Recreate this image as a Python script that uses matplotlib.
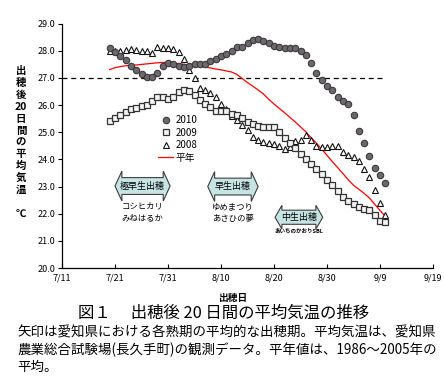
import numpy as np
import matplotlib
matplotlib.use("Agg")
import matplotlib.pyplot as plt
from matplotlib.patches import Polygon

plt.rcParams["font.family"] = ["Noto Sans CJK JP", "DejaVu Sans"]

# ─── Data (days counted from 7/11) ───────────────────────────────────────────

DAYS = np.arange(9, 62)          # 7/20 .. 9/10, one point per heading day
TICK_DAYS = [0, 10, 20, 30, 40, 50, 60, 70]
TICK_LABELS = ["7/11", "7/21", "7/31", "8/10", "8/20", "8/30", "9/9", "9/19"]

temp_2010 = [28.10, 27.97, 27.80, 27.67, 27.43, 27.30, 27.15, 27.04, 27.05, 27.18,
             27.45, 27.57, 27.52, 27.46, 27.40, 27.46, 27.50, 27.52, 27.53, 27.63,
             27.69, 27.80, 27.89, 27.99, 28.14, 28.16, 28.28, 28.40, 28.44, 28.36,
             28.28, 28.18, 28.16, 28.11, 28.09, 28.09, 28.00, 27.85, 27.56, 27.19,
             26.93, 26.72, 26.54, 26.29, 26.14, 26.04, 25.63, 25.06, 24.60, 24.11,
             23.69, 23.43, 23.14]

temp_2009 = [25.42, 25.53, 25.64, 25.76, 25.86, 25.91, 25.97, 26.00, 26.17, 26.29,
             26.29, 26.24, 26.29, 26.47, 26.56, 26.51, 26.38, 26.20, 26.04, 25.92,
             25.79, 25.78, 25.80, 25.69, 25.64, 25.53, 25.39, 25.30, 25.22, 25.18,
             25.18, 25.20, 25.02, 24.80, 24.60, 24.42, 24.20, 24.02, 23.84, 23.66,
             23.48, 23.26, 23.05, 22.83, 22.63, 22.48, 22.35, 22.25, 22.18, 22.12,
             21.96, 21.72, 21.68]

temp_2008 = [28.00, 27.99, 27.99, 28.04, 28.05, 28.04, 28.00, 27.99, 27.91, 28.16,
             28.11, 28.10, 28.07, 27.96, 27.70, 27.31, 27.00, 26.63, 26.56, 26.46,
             26.29, 26.04, 25.84, 25.60, 25.45, 25.28, 25.08, 24.84, 24.70, 24.64,
             24.60, 24.55, 24.49, 24.39, 24.45, 24.67, 24.72, 24.91, 24.73, 24.51,
             24.45, 24.45, 24.48, 24.48, 24.27, 24.17, 24.09, 23.94, 23.64, 23.36,
             22.87, 22.39, 21.96]

temp_normal = [27.31, 27.38, 27.42, 27.45, 27.46, 27.48, 27.50, 27.52, 27.54, 27.56,
               27.57, 27.58, 27.56, 27.53, 27.50, 27.48, 27.46, 27.43, 27.40, 27.37,
               27.33, 27.30, 27.26, 27.22, 27.13, 26.98, 26.83, 26.70, 26.56, 26.41,
               26.22, 26.04, 25.88, 25.72, 25.55, 25.38, 25.20, 25.02, 24.80, 24.60,
               24.38, 24.15, 23.92, 23.70, 23.48, 23.25, 23.05, 22.90, 22.75, 22.58,
               22.35, 22.12, 21.90]

THRESHOLD = 27.0

# heading-period arrows: (start day, end day, temperature level, label, varieties)
ARROWS = [
    (10.0, 20.4, 23.02, "極早生出穂", "コシヒカリ\nみねはるか"),
    (27.5, 37.0, 23.00, "早生出穂", "ゆめまつり\nあさひの夢"),
    (40.2, 49.2, 21.87, "中生出穂", "あいちのかおりSBL"),
]

YLABEL_CHARS = ["出", "穂", "後", "20", "日", "間", "の", "平", "均", "気", "温", "", "℃"]

CAPTION = ["矢印は愛知県における各熟期の平均的な出穂期。平均気温は、愛知県",
           "農業総合試験場(長久手町)の観測データ。平年値は、1986～2005年の",
           "平均。"]

# ─── Figure ──────────────────────────────────────────────────────────────────

fig = plt.figure(figsize=(4.44, 3.87), dpi=100)
ax = fig.add_axes([62 / 444, 1 - 268 / 387, 371 / 444, 244.3 / 387])

lnorm, = ax.plot(DAYS, temp_normal, color="#ff0000", lw=0.9, label="平年", zorder=2)
l08, = ax.plot(DAYS, temp_2008, ls="none", marker="^", ms=4.6, mfc="white",
               mec="#111111", mew=0.8, label="2008", zorder=3)
l09, = ax.plot(DAYS, temp_2009, ls="none", marker="s", ms=4.4, mfc="#f4f4f4",
               mec="#333333", mew=0.9, label="2009", zorder=3)
l10, = ax.plot(DAYS, temp_2010, ls="none", marker="o", ms=4.6, mfc="#6c686c",
               mec="#3a383a", mew=0.8, label="2010", zorder=4)

ax.hlines(THRESHOLD, TICK_DAYS[0], DAYS[-1], colors="black", lw=0.9,
          linestyles=(0, (4, 3)), zorder=1)

ax.set_xlim(TICK_DAYS[0], TICK_DAYS[-1])
ax.set_ylim(20, 29)
ax.set_xticks(TICK_DAYS)
ax.set_xticklabels(TICK_LABELS)
yt = np.arange(20, 30)
ax.set_yticks(yt)
ax.set_yticklabels([f"{v:.1f}" for v in yt])
ax.tick_params(axis="x", direction="in", length=3, width=0.8, labelsize=6.5, pad=4)
ax.tick_params(axis="y", direction="out", length=3, width=0.8, labelsize=6.5, pad=2)
ax.spines[["top", "right"]].set_visible(False)
for s in ["left", "bottom"]:
    ax.spines[s].set_linewidth(0.9)

ax.legend(handles=[l10, l09, l08, lnorm], loc="upper left",
          bbox_to_anchor=(0.245, 0.645), frameon=False, fontsize=7,
          handlelength=1.6, handletextpad=0.2, labelspacing=0.25, borderpad=0)

# double-headed arrows
for x0, x1, yc, label, names in ARROWS:
    small = label == "中生出穂"
    bh = 0.26 if small else 0.31        # body half height
    hh = 0.44 if small else 0.55        # head half height
    hl = 1.3                            # head length (days)
    pts = [(x0, yc), (x0 + hl, yc + hh), (x0 + hl, yc + bh), (x1 - hl, yc + bh),
           (x1 - hl, yc + hh), (x1, yc), (x1 - hl, yc - hh), (x1 - hl, yc - bh),
           (x0 + hl, yc - bh), (x0 + hl, yc - hh)]
    ax.add_patch(Polygon(pts, closed=True, fc="#c6e4e4", ec="#3c3c3c", lw=0.8, zorder=2))
    xc = (x0 + x1) / 2
    ax.text(xc, yc, label, ha="center", va="center", fontsize=6.5, zorder=3)
    if small:
        ax.text(xc, yc - 0.5, names, ha="center", va="center", fontsize=4,
                fontweight="bold")
    else:
        ax.text(xc, yc - 0.95, names, ha="center", va="center", fontsize=6,
                linespacing=1.45)

# vertical y label
for i, ch in enumerate(YLABEL_CHARS):
    fig.text(21 / 444, 1 - (71 + i * 11.9) / 387, ch, ha="center", va="center",
             fontsize=7.5, fontweight="bold")

fig.text(233 / 444, 1 - 298 / 387, "出穂日", ha="center", va="center",
         fontsize=7, fontweight="bold")
fig.text(78 / 444, 1 - 313 / 387, "図１　 出穂後 20 日間の平均気温の推移",
         ha="left", va="center", fontsize=11.8)
for i, line in enumerate(CAPTION):
    fig.text(17 / 444, 1 - (333 + i * 17) / 387, line, ha="left", va="center",
             fontsize=9.7)

fig.savefig("out.png", dpi=100)
